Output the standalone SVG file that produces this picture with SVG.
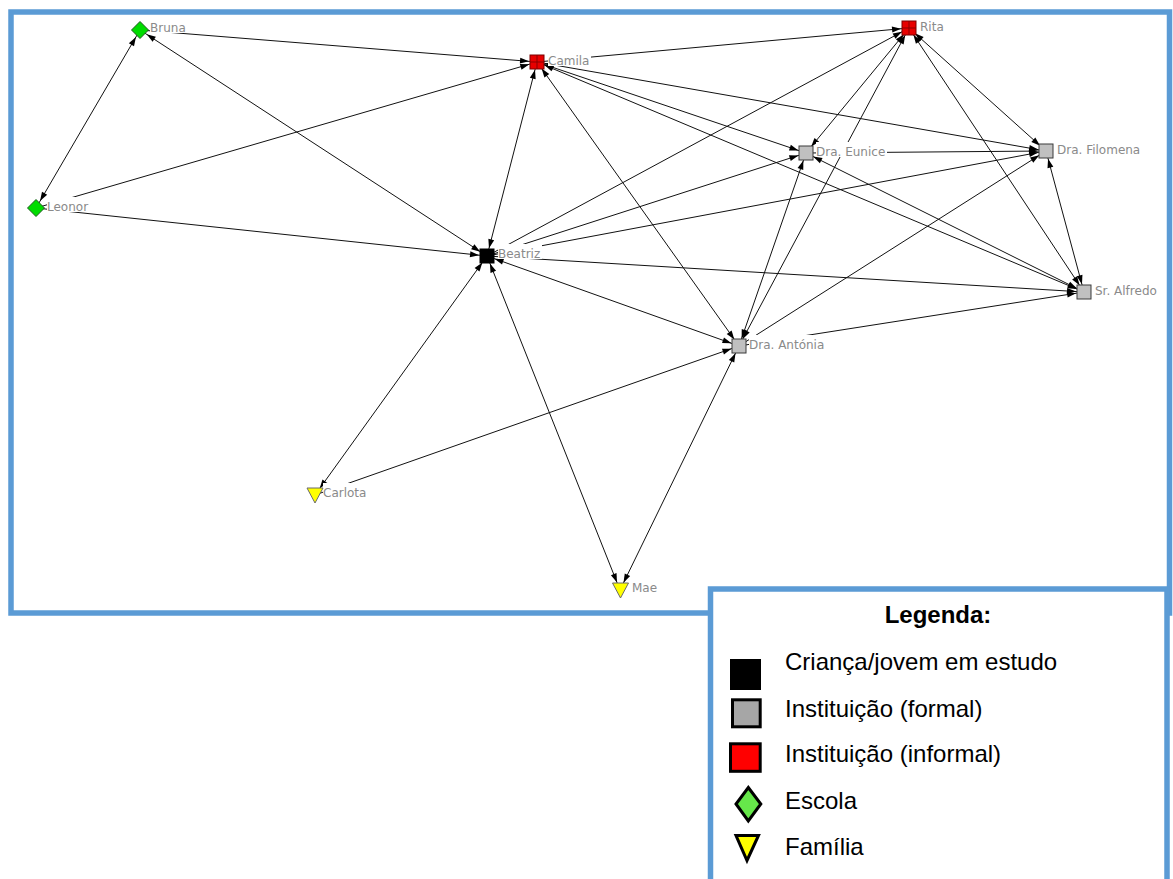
<svg xmlns="http://www.w3.org/2000/svg" width="1173" height="879" viewBox="0 0 1173 879">
  <style>
    .edge { stroke: #111; stroke-width: 1; fill: none; }
    .fwd { marker-end: url(#ah); }
    .both { marker-start: url(#ah); marker-end: url(#ah); }
    .lbl { font-family: "DejaVu Sans", sans-serif; font-size: 12px; fill: #8a8a8a; }
    .lblbg { fill: #fff; }
    .formal { fill: #c0c0c0; stroke: #3a3a3a; stroke-width: 1; }
    .informal { fill: #e80000; stroke: #7a0000; stroke-width: 1; }
    .grid { stroke: #8b0000; stroke-width: 1; }
    .study { fill: #000; }
    .school { fill: #00dc00; stroke: #1e5a1e; stroke-width: 1; }
    .family { fill: #ffff00; stroke: #6a6a6a; stroke-width: 1; }
    .frame { fill: none; stroke: #5b9bd5; stroke-width: 5.5; }
    .key { fill: #fff; stroke: #5b9bd5; stroke-width: 5.5; }
    .keytxt { font-family: "Liberation Sans", Arial, sans-serif; font-size: 24px; fill: #000; }
    .keyicon { stroke: #000; stroke-width: 3; }
  </style>
  <defs>
    <marker id="ah" markerUnits="userSpaceOnUse" viewBox="-20 -4 20 8" markerWidth="20" markerHeight="8" refX="0" refY="0" orient="auto-start-reverse">
      <path d="M-8,0 L-17,-3 L-17,3 Z" fill="#000"/>
    </marker>
  </defs>

  <rect width="1173" height="879" fill="#fff"/>
  <rect class="frame" x="11" y="12" width="1158.5" height="601"/>

  <!-- edges run centre to centre; nodes and labels sit on top -->
  <g id="connectors">
    <path class="edge both" d="M36,208 L140,30"/>
    <path class="edge fwd" d="M140,30 L537,62"/>
    <path class="edge both" d="M487,256 L140,30"/>
    <path class="edge fwd" d="M36,208 L537,62"/>
    <path class="edge fwd" d="M36,208 L487,256"/>
    <path class="edge fwd" d="M537,62 L909,28"/>
    <path class="edge both" d="M537,62 L487,256"/>
    <path class="edge both" d="M537,62 L739,346"/>
    <path class="edge both" d="M537,62 L806,153"/>
    <path class="edge both" d="M537,62 L1046,151"/>
    <path class="edge both" d="M537,62 L1084,292"/>
    <path class="edge fwd" d="M487,256 L909,28"/>
    <path class="edge fwd" d="M487,256 L806,153"/>
    <path class="edge fwd" d="M487,256 L1046,151"/>
    <path class="edge fwd" d="M487,256 L1084,292"/>
    <path class="edge both" d="M487,256 L739,346"/>
    <path class="edge both" d="M487,256 L315,495"/>
    <path class="edge both" d="M487,256 L620,590"/>
    <path class="edge fwd" d="M315,495 L739,346"/>
    <path class="edge both" d="M620,590 L739,346"/>
    <path class="edge both" d="M806,153 L909,28"/>
    <path class="edge fwd" d="M806,153 L1046,151"/>
    <path class="edge both" d="M806,153 L1084,292"/>
    <path class="edge both" d="M739,346 L806,153"/>
    <path class="edge both" d="M739,346 L909,28"/>
    <path class="edge fwd" d="M739,346 L1046,151"/>
    <path class="edge fwd" d="M739,346 L1084,292"/>
    <path class="edge both" d="M909,28 L1046,151"/>
    <path class="edge both" d="M909,28 L1084,292"/>
    <path class="edge both" d="M1046,151 L1084,292"/>
  </g>

  <g id="node-bruna">
    <rect class="lblbg" x="150" y="18" width="37" height="15"/>
    <text class="lbl" x="150" y="32">Bruna</text>
    <polygon class="school" points="140,21.5 148.5,30 140,38.5 131.5,30"/>
  </g>
  <g id="node-leonor">
    <rect class="lblbg" x="47" y="197" width="43" height="15"/>
    <text class="lbl" x="47" y="211">Leonor</text>
    <polygon class="school" points="36,199.5 44.5,208 36,216.5 27.5,208"/>
  </g>
  <g id="node-camila">
    <rect class="lblbg" x="548" y="51" width="43" height="15"/>
    <text class="lbl" x="548" y="65">Camila</text>
    <rect class="informal" x="530" y="55" width="14" height="14"/>
    <path class="grid" d="M537,55 V69 M530,62 H544"/>
  </g>
  <g id="node-rita">
    <rect class="lblbg" x="920" y="17" width="25" height="15"/>
    <text class="lbl" x="920" y="31">Rita</text>
    <rect class="informal" x="902" y="21" width="14" height="14"/>
    <path class="grid" d="M909,21 V35 M902,28 H916"/>
  </g>
  <g id="node-filomena">
    <rect class="lblbg" x="1057" y="140" width="86" height="15"/>
    <text class="lbl" x="1057" y="154">Dra. Filomena</text>
    <rect class="formal" x="1039" y="144" width="14" height="14"/>
  </g>
  <g id="node-beatriz">
    <rect class="lblbg" x="498" y="244" width="44" height="15"/>
    <text class="lbl" x="498" y="258">Beatriz</text>
    <rect class="study" x="479.5" y="248.5" width="15" height="15"/>
  </g>
  <g id="node-eunice">
    <rect class="lblbg" x="816" y="142" width="71" height="15"/>
    <text class="lbl" x="816" y="156">Dra. Eunice</text>
    <rect class="formal" x="799" y="146" width="14" height="14"/>
  </g>
  <g id="node-antonia">
    <rect class="lblbg" x="749" y="335" width="77" height="15"/>
    <text class="lbl" x="749" y="349">Dra. Antónia</text>
    <rect class="formal" x="732" y="339" width="14" height="14"/>
  </g>
  <g id="node-alfredo">
    <rect class="lblbg" x="1095" y="281" width="65" height="15"/>
    <text class="lbl" x="1095" y="295">Sr. Alfredo</text>
    <rect class="formal" x="1077" y="285" width="14" height="14"/>
  </g>
  <g id="node-carlota">
    <rect class="lblbg" x="323" y="483" width="45" height="15"/>
    <text class="lbl" x="323" y="497">Carlota</text>
    <polygon class="family" points="307,488 323,488 315,503"/>
  </g>
  <g id="node-mae">
    <rect class="lblbg" x="632" y="578" width="27" height="15"/>
    <text class="lbl" x="632" y="592">Mae</text>
    <polygon class="family" points="612.5,583 628.5,583 620.5,598"/>
  </g>

  <g id="legend">
    <rect class="key" x="710.5" y="589" width="456.5" height="320"/>
    <text class="keytxt" x="938" y="623" text-anchor="middle" font-weight="bold">Legenda:</text>
    <rect x="730" y="659" width="31" height="31" fill="#000"/>
    <text class="keytxt" x="785" y="669.5">Criança/jovem em estudo</text>
    <rect class="keyicon" x="732.5" y="699.8" width="27.7" height="27" fill="#a6a6a6"/>
    <text class="keytxt" x="785" y="716.5">Instituição (formal)</text>
    <rect class="keyicon" x="730.5" y="743.8" width="29.7" height="27.5" fill="#ff0000"/>
    <text class="keytxt" x="785" y="762">Instituição (informal)</text>
    <polygon class="keyicon" points="748.3,787.5 760.8,804 748.3,821 736,804" fill="#66e84a"/>
    <text class="keytxt" x="785" y="808.5">Escola</text>
    <polygon class="keyicon" points="736,835.5 758.5,835.5 747,860.5" fill="#ffff00"/>
    <text class="keytxt" x="785" y="855">Família</text>
  </g>
</svg>
